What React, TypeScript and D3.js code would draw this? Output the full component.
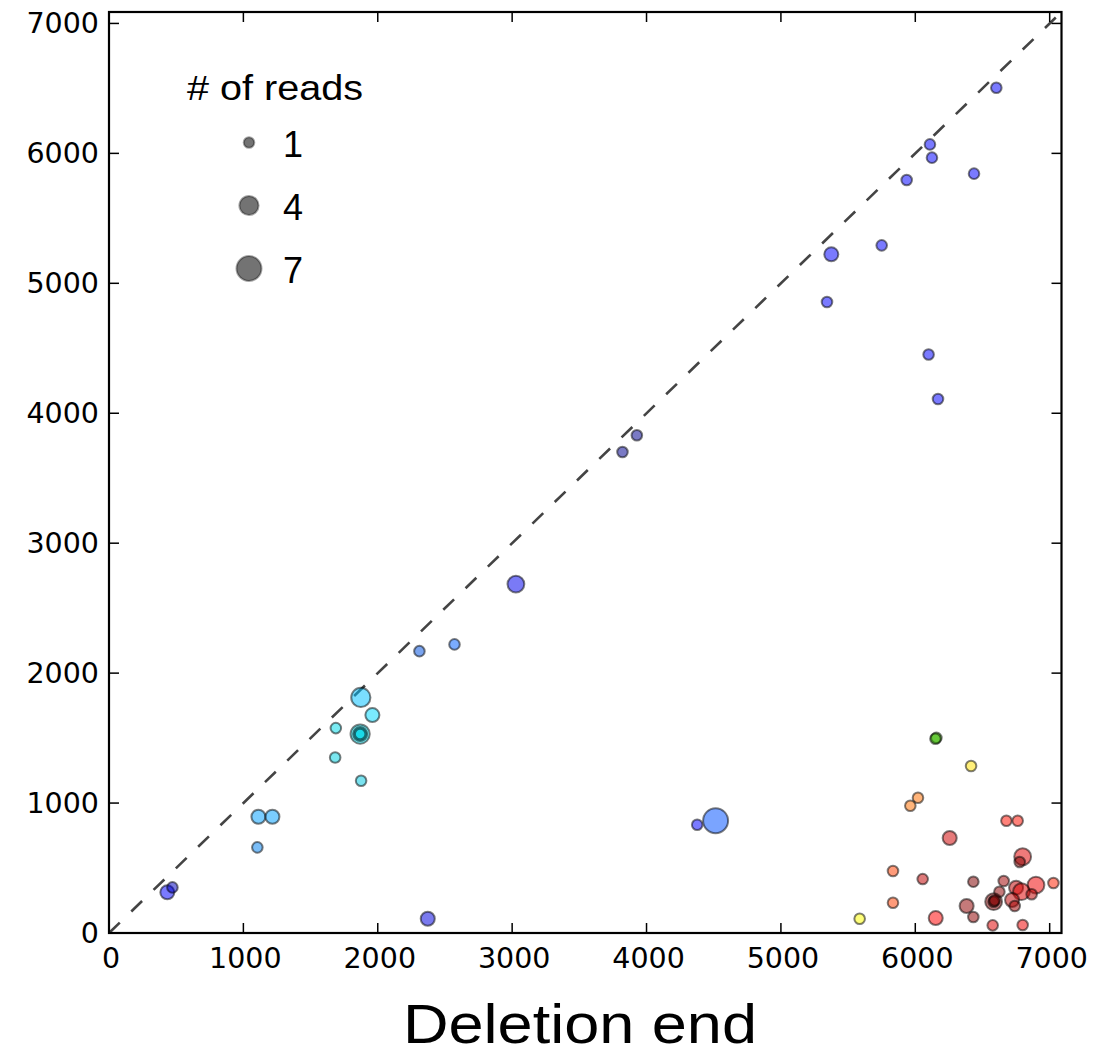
import React from "react";
import * as d3 from "d3";

// Deletion end (x), deletion start (y), number of reads, colour
const delEnd = [
  6603, 6109, 6124, 5936, 6437, 5750, 5375, 5343, 6099, 6169,
  3928, 3821, 3028, 2571, 2310, 1874, 1960, 1688, 1869, 1869,
  1869, 1683, 1876, 1112, 1216, 1104, 434, 472, 2372, 4377,
  4514, 6157, 6150, 6415, 6020, 5963, 5834, 5834, 5586, 6678,
  6762, 6256, 6799, 6777, 6055, 6432, 6658, 6898, 7028, 6750,
  6790, 6866, 6626, 6720, 6740, 6583, 6583, 6590, 6382, 6432,
  6152, 6576, 6799,
];
const delStart = [
  6505, 6069, 5967, 5795, 5844, 5292, 5223, 4856, 4452, 4110,
  3831, 3702, 2685, 2221, 2169, 1813, 1677, 1577, 1531, 1531,
  1531, 1351, 1172, 895, 895, 659, 313, 351, 110, 833,
  864, 1502, 1495, 1285, 1041, 979, 477, 233, 110, 864,
  864, 731, 587, 546, 415, 395, 400, 369, 385, 349,
  318, 298, 318, 254, 208, 241, 241, 250, 208, 123,
  115, 59, 62,
];
const reads = [
  1, 1, 1, 1, 1, 1, 2, 1, 1, 1,
  1, 1, 3, 1, 1, 4, 2, 1, 4, 2,
  1, 1, 1, 2, 2, 1, 2, 1, 2, 1,
  7, 1, 1, 1, 1, 1, 1, 1, 1, 1,
  1, 2, 3, 1, 1, 1, 1, 3, 1, 2,
  3, 1, 1, 2, 1, 3, 1, 1, 2, 1,
  2, 1, 1,
];
const colors = [
  "#0000ff", "#0000ff", "#0000ff", "#0000ff", "#0000ff", "#0000ff", "#0000ff", "#0000ff", "#0000ff", "#0000ff",
  "#000090", "#000090", "#0000ee", "#0060ff", "#0050e0", "#00bfff", "#00d8ff", "#00d8e8", "#00e0f0", "#00e0f0",
  "#00d0e0", "#00d0e0", "#00c8e0", "#00a0ff", "#00a0ff", "#0080f0", "#0000ff", "#0000c0", "#0000e0", "#0000ff",
  "#0050ff", "#50f000", "#30a000", "#ffe000", "#ff7000", "#ff7000", "#ff4000", "#ff4000", "#ffff00", "#ff1000",
  "#ff1000", "#d00000", "#e00000", "#800000", "#c00000", "#800000", "#a00000", "#f00000", "#ff2000", "#c00000",
  "#e00000", "#c00000", "#900000", "#c00000", "#a00000", "#800000", "#800000", "#800000", "#900000", "#900000",
  "#ff0000", "#e00000", "#f00000",
];

const xTicks = [0, 1000, 2000, 3000, 4000, 5000, 6000, 7000];
const yTicks = [0, 1000, 2000, 3000, 4000, 5000, 6000, 7000];
const legendReads = [1, 4, 7];

const L = 109, R = 1061.5, T = 12, B = 933;
const LIM = 7088;

export default function App() {
  const x = d3.scaleLinear().domain([0, LIM]).range([L, R]);
  const y = d3.scaleLinear().domain([0, LIM]).range([B, T]);
  const rArea = d3.scaleLinear().domain([1, 7]).range([28, 156]);
  const rad = (n: number) => Math.sqrt(rArea(n));
  const pts = delEnd.map((d, i) => ({ x: d, y: delStart[i], n: reads[i], c: colors[i] }));
  const tickLen = 10;

  return (
    <svg width={1099} height={1060} style={{ position: "absolute", left: 0, top: 0, background: "#fff" }}>
      <rect x={0} y={0} width={1099} height={1060} fill="#fff" />
      <line x1={x(0)} y1={y(0)} x2={x(LIM)} y2={y(LIM)} stroke="#444" strokeWidth={2.6} strokeDasharray="15,16" />
      {pts.map((p, i) => (
        <circle key={i} cx={x(p.x)} cy={y(p.y)} r={rad(p.n)} fill={p.c} fillOpacity={0.52}
          stroke="#000" strokeOpacity={0.5} strokeWidth={2} />
      ))}
      {/* legend */}
      <text x={187} y={100} fontFamily="Liberation Sans, Arial, sans-serif" fontSize={35}
        textLength={176} lengthAdjust="spacingAndGlyphs">
        # of reads
      </text>
      {legendReads.map((n, i) => (
        <g key={n}>
          <circle cx={249} cy={142.5 + i * 63} r={rad(n)} fill="#000" fillOpacity={0.55} stroke="#000" strokeOpacity={0.35} strokeWidth={2} />
          <text x={283} y={144 + i * 63} dominantBaseline="central" fontFamily="Liberation Sans, Arial, sans-serif" fontSize={36}>{n}</text>
        </g>
      ))}
      {/* ticks */}
      {xTicks.map((t) => (
        <g key={"x" + t}>
          <line x1={x(t)} x2={x(t)} y1={B} y2={B - tickLen} stroke="#000" strokeWidth={1.5} />
          <line x1={x(t)} x2={x(t)} y1={T} y2={T + tickLen} stroke="#000" strokeWidth={1.5} />
          <text x={x(t) + 2} y={958} textAnchor="middle" dominantBaseline="central" fontFamily="DejaVu Sans, sans-serif" fontSize={28.5}>{t}</text>
        </g>
      ))}
      {yTicks.map((t) => (
        <g key={"y" + t}>
          <line x1={L} x2={L + tickLen} y1={y(t)} y2={y(t)} stroke="#000" strokeWidth={1.5} />
          <line x1={R} x2={R - tickLen} y1={y(t)} y2={y(t)} stroke="#000" strokeWidth={1.5} />
          <text x={99} y={y(t)} textAnchor="end" dominantBaseline="central" fontFamily="DejaVu Sans, sans-serif" fontSize={28.5}>{t}</text>
        </g>
      ))}
      <rect x={L} y={T} width={R - L} height={B - T} fill="none" stroke="#000" strokeWidth={2.2} />
      <text x={580} y={1043} textAnchor="middle" fontFamily="Liberation Sans, Arial, sans-serif" fontSize={55}
        textLength={354} lengthAdjust="spacingAndGlyphs">
        Deletion end
      </text>
    </svg>
  );
}
